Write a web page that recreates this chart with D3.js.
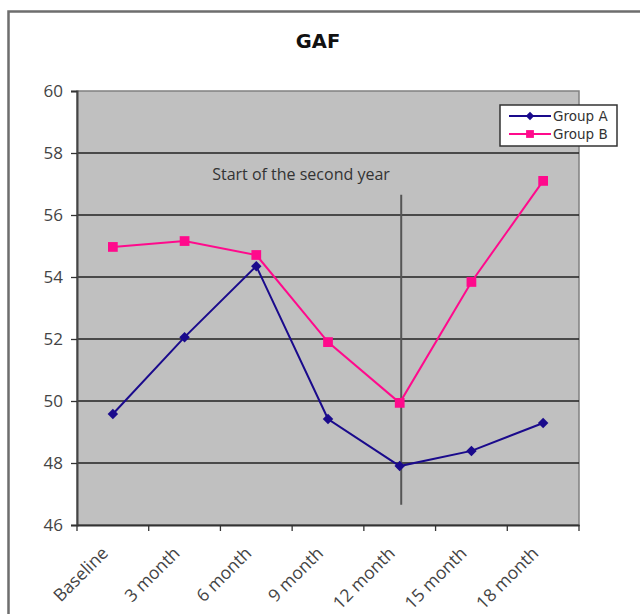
<!DOCTYPE html>
<html>
<head>
<meta charset="utf-8">
<script src="https://cdn.jsdelivr.net/npm/d3@7"></script>
<style>
  html, body { margin: 0; padding: 0; background: #fff; }
  svg { display: block; }
</style>
</head>
<body>
<svg id="chart" width="640" height="614"></svg>
<script>
const categories = ["Baseline", "3 month", "6 month", "9 month", "12 month", "15 month", "18 month"];
const groupA = [49.58, 52.06, 54.35, 49.42, 47.9, 48.39, 49.29];
const groupB = [54.97, 55.16, 54.71, 51.9, 49.94, 53.84, 57.1];
const yTicks = [46, 48, 50, 52, 54, 56, 58, 60];
const seriesNames = ["Group A", "Group B"];
const markerLine = { category: "12 month", from: 46.65, to: 56.65 };
const annotation = "Start of the second year";
const title = "GAF";

const svg = d3.select("#chart");
const W = 640, H = 614;
const plot = { left: 77, right: 579, top: 91, bottom: 525 };

// outer frame
svg.append("path")
  .attr("d", `M8.5,${H} L8.5,11.5 L${W},11.5`)
  .attr("fill", "none").attr("stroke", "#6e6e6e").attr("stroke-width", 2.5);

// title
svg.append("text").attr("x", 318).attr("y", 48)
  .attr("text-anchor", "middle")
  .attr("font-family", "DejaVu Sans, sans-serif")
  .attr("font-weight", "bold").attr("font-size", 19.5)
  .attr("fill", "#111").text(title);

const x = d3.scaleBand().domain(categories).range([plot.left, plot.right]).padding(0);
const y = d3.scaleLinear().domain([46, 60]).range([plot.bottom, plot.top]);
const cx = c => x(c) + x.bandwidth() / 2;

// plot background
svg.append("rect")
  .attr("x", plot.left).attr("y", plot.top)
  .attr("width", plot.right - plot.left).attr("height", plot.bottom - plot.top)
  .attr("fill", "#c0c0c0")
  .attr("stroke", "#808080").attr("stroke-width", 1.5);

// gridlines
svg.append("g").selectAll("line")
  .data(yTicks.filter(t => t !== 46 && t !== 60))
  .join("line")
  .attr("x1", plot.left).attr("x2", plot.right)
  .attr("y1", d => y(d)).attr("y2", d => y(d))
  .attr("stroke", "#222").attr("stroke-width", 1.3);

// y axis
const yAxis = svg.append("g").attr("transform", `translate(${plot.left},0)`)
  .call(d3.axisLeft(y).tickValues(yTicks).tickSize(6).tickPadding(8).tickFormat(d3.format("d")));
yAxis.select(".domain").attr("stroke", "#444").attr("stroke-width", 2);
yAxis.selectAll(".tick line").attr("stroke", "#333").attr("stroke-width", 1.3);
yAxis.selectAll(".tick text")
  .attr("font-family", "Open Sans, sans-serif").attr("font-size", 17)
  .attr("fill", "#444");

// x axis
const xAxis = svg.append("g").attr("transform", `translate(0,${plot.bottom})`)
  .call(d3.axisBottom(x).tickSize(0).tickFormat(""));
xAxis.select(".domain").attr("stroke", "#333").attr("stroke-width", 2);
// category boundary ticks
svg.append("g").selectAll("line")
  .data(categories.concat(["__end"]))
  .join("line")
  .attr("x1", (d, i) => i < categories.length ? x(d) : plot.right)
  .attr("x2", (d, i) => i < categories.length ? x(d) : plot.right)
  .attr("y1", plot.bottom).attr("y2", plot.bottom + 6)
  .attr("stroke", "#333").attr("stroke-width", 1.3);
svg.append("g").selectAll("text")
  .data(categories)
  .join("text")
  .attr("transform", d => `translate(${cx(d) - 8},${plot.bottom + 25}) rotate(-45)`)
  .attr("text-anchor", "end")
  .attr("dy", "0.35em")
  .attr("font-family", "Open Sans, sans-serif").attr("font-size", 17.5)
  .attr("fill", "#444")
  .text(d => d);

// vertical marker line
svg.append("line")
  .attr("x1", cx(markerLine.category) + 1.5).attr("x2", cx(markerLine.category) + 1.5)
  .attr("y1", y(markerLine.to)).attr("y2", y(markerLine.from))
  .attr("stroke", "#555").attr("stroke-width", 2);

// annotation
svg.append("text").attr("x", 301).attr("y", 180)
  .attr("text-anchor", "middle")
  .attr("font-family", "Open Sans, sans-serif").attr("font-size", 16)
  .attr("fill", "#333").text(annotation);

const colorA = "#1a0a8c", colorB = "#ff0a8c";
const line = d3.line().x((d, i) => cx(categories[i])).y(d => y(d));

svg.append("path").datum(groupA).attr("d", line)
  .attr("fill", "none").attr("stroke", colorA).attr("stroke-width", 2);
svg.append("path").datum(groupB).attr("d", line)
  .attr("fill", "none").attr("stroke", colorB).attr("stroke-width", 2);

const diamond = d3.symbol().type(d3.symbolDiamond2).size(70);
const square = d3.symbol().type(d3.symbolSquare).size(95);

svg.append("g").selectAll("path").data(groupA).join("path")
  .attr("d", diamond)
  .attr("transform", (d, i) => `translate(${cx(categories[i])},${y(d)})`)
  .attr("fill", colorA);
svg.append("g").selectAll("path").data(groupB).join("path")
  .attr("d", square)
  .attr("transform", (d, i) => `translate(${cx(categories[i])},${y(d)})`)
  .attr("fill", colorB);

// legend
const lg = svg.append("g");
lg.append("rect").attr("x", 500).attr("y", 105).attr("width", 117).attr("height", 41)
  .attr("fill", "#fff").attr("stroke", "#333").attr("stroke-width", 1.5);
const legendItems = [
  { name: seriesNames[0], color: colorA, sym: diamond, yy: 116 },
  { name: seriesNames[1], color: colorB, sym: square, yy: 134 }
];
legendItems.forEach(it => {
  lg.append("line").attr("x1", 509).attr("x2", 551).attr("y1", it.yy).attr("y2", it.yy)
    .attr("stroke", it.color).attr("stroke-width", 2);
  lg.append("path").attr("d", it.sym).attr("transform", `translate(530,${it.yy}) scale(0.8)`)
    .attr("fill", it.color);
  lg.append("text").attr("x", 553).attr("y", it.yy).attr("dy", "0.35em")
    .attr("font-family", "DejaVu Sans, sans-serif").attr("font-size", 13.5)
    .attr("fill", "#333").text(it.name);
});
</script>
</body>
</html>
